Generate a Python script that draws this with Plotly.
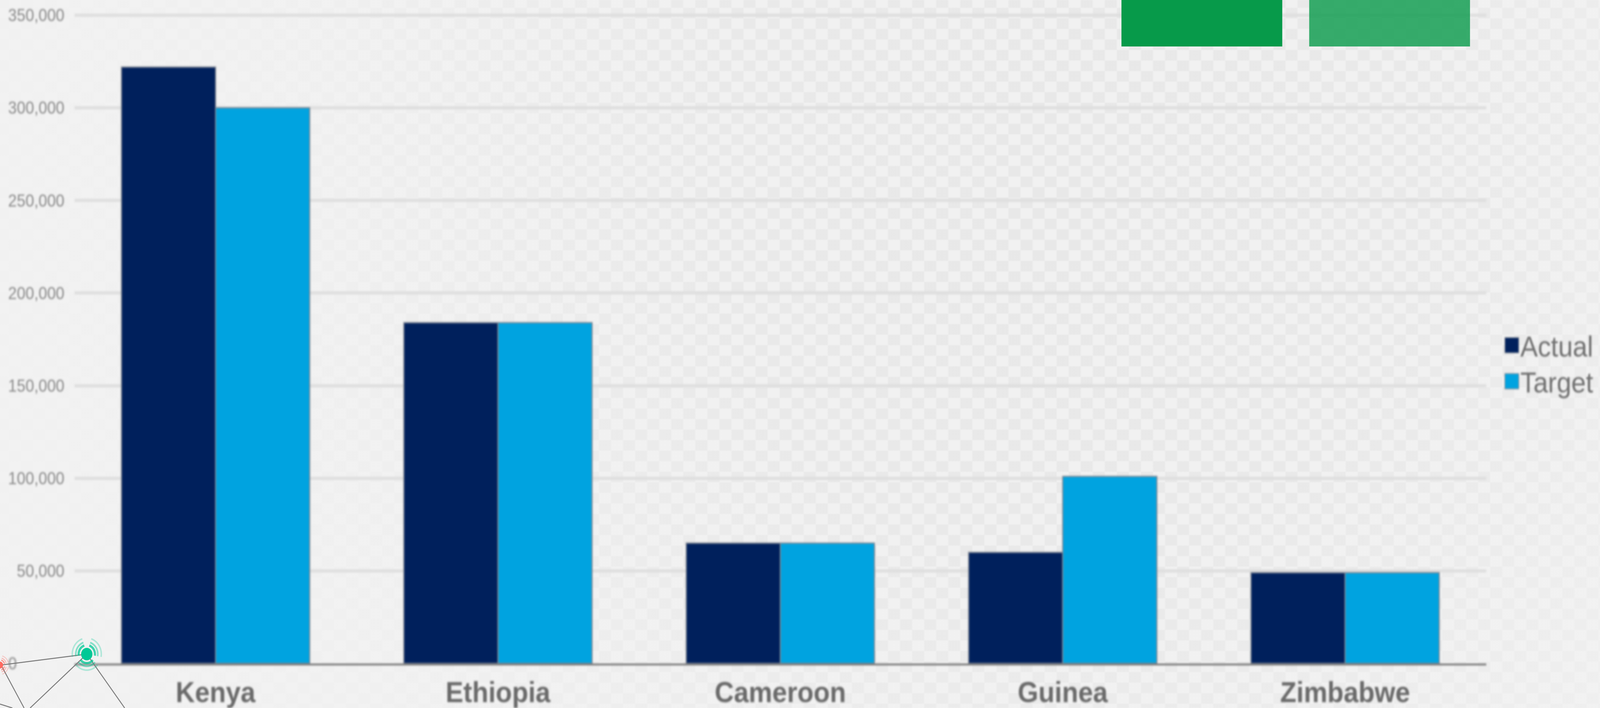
import base64
import numpy as np
import plotly.graph_objects as go

categories = ["Kenya", "Ethiopia", "Cameroon", "Guinea", "Zimbabwe"]
actual = [322000, 184000, 65000, 60000, 49000]
target = [300000, 184000, 65000, 101000, 49000]
y_ticks = [0, 50000, 100000, 150000, 200000, 250000, 300000, 350000]
y_labels = ["0" + "\u00a0" * 11, "50,000", "100,000", "150,000", "200,000", "250,000", "300,000", "350,000"]

W, H = 4517, 1813
L, R, T, B = 210, 4196, 0, 1699
PW, PH = R - L, B - T

def px(x):
    return (x - L) / PW

def py(y):
    return (B - y) / PH

# faint checkerboard backdrop
svg = f'''<svg xmlns="http://www.w3.org/2000/svg" width="{W}" height="{H}" viewBox="0 0 {W} {H}">
<defs>
<pattern id="c" x="25" y="20" width="68" height="54" patternUnits="userSpaceOnUse">
<rect width="68" height="54" fill="#f1f1f1"/>
<rect width="34" height="27" fill="#e8e8e8"/><rect x="34" y="27" width="34" height="27" fill="#e8e8e8"/>
</pattern>
<radialGradient id="f" gradientUnits="userSpaceOnUse" cx="3000" cy="450" r="3300">
<stop offset="0" stop-color="#f2f2f2" stop-opacity="0"/>
<stop offset="0.3" stop-color="#f2f2f2" stop-opacity="0.1"/>
<stop offset="0.65" stop-color="#f2f2f2" stop-opacity="0.75"/>
<stop offset="1" stop-color="#f2f2f2" stop-opacity="0.95"/>
</radialGradient>
<filter id="b"><feGaussianBlur stdDeviation="1.2"/></filter>
</defs>
<rect width="{W}" height="{H}" fill="#f2f2f2"/>
<rect width="{W}" height="{H}" fill="url(#c)" filter="url(#b)"/>
<rect width="{W}" height="{H}" fill="url(#f)"/>
</svg>'''
bg = "data:image/svg+xml;base64," + base64.b64encode(svg.encode()).decode()

shapes = []

def rect(x0, y0, x1, y1, color):
    shapes.append(dict(type="rect", xref="paper", yref="paper", layer="above",
                       x0=px(x0), x1=px(x1), y0=py(y0), y1=py(y1),
                       fillcolor=color, line=dict(width=0)))

def seg(x0, y0, x1, y1):
    shapes.append(dict(type="line", xref="paper", yref="paper", layer="above",
                       x0=px(x0), x1=px(x1), y0=py(y0), y1=py(y1),
                       line=dict(color="#7a7a7a", width=2.5)))

def circ(cx, cy, r, color):
    shapes.append(dict(type="circle", xref="paper", yref="paper", layer="above",
                       x0=px(cx - r), x1=px(cx + r), y0=py(cy + r), y1=py(cy - r),
                       fillcolor=color, line=dict(width=0)))

def arc(cx, cy, r, a0, a1, color, width, opacity):
    t = np.radians(np.linspace(a0, a1, 24))
    pts = [f"{px(cx + r * np.cos(a)):.6f},{py(cy - r * np.sin(a)):.6f}" for a in t]
    shapes.append(dict(type="path", xref="paper", yref="paper", layer="above",
                       path="M" + "L".join(pts), opacity=opacity,
                       line=dict(color=color, width=width)))

rect(3166, 0, 3620, 119, "#079a4a")
rect(3696, 0, 4150, 119, "rgba(7,154,74,0.8)")

seg(3, 1703, 245, 1675)
seg(3, 1703, 68, 1813)
seg(245, 1675, 85, 1813)
seg(245, 1675, 352, 1813)
seg(0, 1803, 35, 1813)

GREEN, RED = "#00c896", "#ff6a60"
for a0, a1 in [(-10, 72), (108, 190), (222, 318)]:
    arc(245, 1675, 23, a0, a1, GREEN, 6, 0.75)
    arc(245, 1675, 31, a0, a1, GREEN, 4.5, 0.45)
    arc(245, 1675, 41, a0, a1, GREEN, 4, 0.28)
circ(245, 1675, 16, GREEN)
for a0, a1 in [(-75, -15), (15, 75)]:
    arc(0, 1703, 13, a0, a1, RED, 3, 0.7)
    arc(0, 1703, 18, a0, a1, RED, 2.5, 0.45)
    arc(0, 1703, 24, a0, a1, RED, 2.5, 0.3)
circ(0, 1703, 9, RED)

fig = go.Figure()
fig.add_bar(name="Actual", x=categories, y=actual,
            marker=dict(color="#00205c", line=dict(color="#7f8692", width=3)))
fig.add_bar(name="Target", x=categories, y=target,
            marker=dict(color="#00a3e0", line=dict(color="#7f8692", width=3)))

fig.update_layout(
    width=W, height=H, autosize=False,
    margin=dict(l=L, r=W - R, t=T, b=H - B, pad=0, autoexpand=False),
    paper_bgcolor="#f2f2f2", plot_bgcolor="rgba(0,0,0,0)",
    barmode="group", bargap=1 / 3, bargroupgap=0,
    font=dict(family="Liberation Sans"),
    showlegend=True,
    legend=dict(x=px(4244), xanchor="left", y=py(934), yanchor="middle",
                bgcolor="rgba(0,0,0,0)", borderwidth=0, itemwidth=38,
                font=dict(size=74, color="#6f6f6f"), traceorder="normal",
                itemclick=False, itemdoubleclick=False),
    images=[dict(source=bg, xref="paper", yref="paper", x=px(0), y=py(0),
                 sizex=W / PW, sizey=H / PH, sizing="stretch",
                 xanchor="left", yanchor="top", layer="below")],
    shapes=shapes,
    xaxis=dict(showgrid=False, showline=True, linecolor="#7b7b7b", linewidth=5,
               ticks="", ticklabelstandoff=4,
               tickfont=dict(size=75, color="#6a6a6a", family="Liberation Sans", weight="bold")),
    yaxis=dict(range=[0, 358200], tickvals=y_ticks, ticktext=y_labels,
               showgrid=True, gridcolor="#dedede", gridwidth=8, zeroline=False,
               ticks="", ticklabelstandoff=27, showline=False,
               tickfont=dict(size=44, color="#8a8a8a", family="Liberation Sans")),
)

# the page window can be narrower than the 4517 px layout: fit the width to it
post = """
document.body.style.margin='0';
document.body.style.background='#f2f2f2';
document.documentElement.style.overflow='hidden';
var gd=document.getElementById('{plot_id}');
gd.style.transformOrigin='0 0';
gd.style.transform='scaleX('+(window.innerWidth/4517)+')';
function dress(){
  gd.querySelectorAll('.cartesianlayer,.legend').forEach(function(e){e.style.filter='blur(2.5px)';});
  gd.querySelectorAll('.legend .legendpoints path').forEach(function(p){
    var t=(p.getAttribute('transform')||'').replace(/ ?scale\\([^)]*\\)/,'');
    p.setAttribute('transform',t+' scale(3.25)');
    p.style.strokeWidth='0.6px';
  });
  var rows=gd.querySelectorAll('.legend .traces');
  if(rows.length>1 && !rows[1].dataset.moved){
    var m=/translate\\(([^,]+),\\s*([^)]+)\\)/.exec(rows[1].getAttribute('transform'));
    if(m){rows[1].setAttribute('transform','translate('+m[1]+','+(parseFloat(m[2])-7)+')');rows[1].dataset.moved='1';}
  }
}
dress();
setTimeout(dress,200);
"""
fig.write_html("out.html", post_script=post, config=dict(displayModeBar=False))
